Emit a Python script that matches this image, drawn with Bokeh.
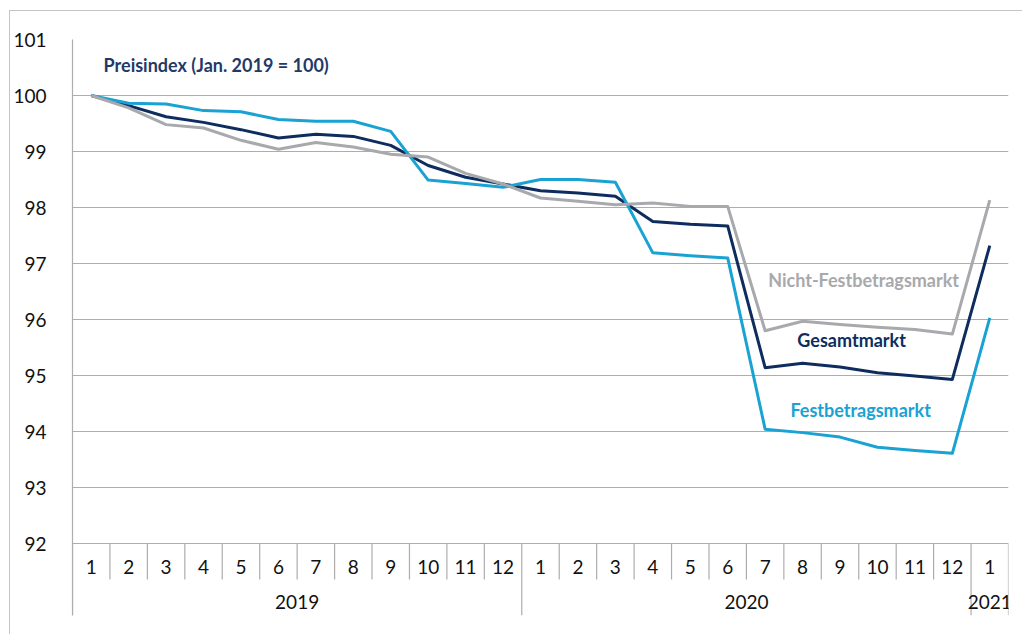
from bokeh.plotting import figure
from bokeh.models import FixedTicker, Range1d
from bokeh.core.properties import value
from bokeh.embed import file_html
from bokeh.resources import INLINE

# ---- data ----
months = ["1", "2", "3", "4", "5", "6", "7", "8", "9", "10", "11", "12",
          "1", "2", "3", "4", "5", "6", "7", "8", "9", "10", "11", "12",
          "1"]
years = ["2019", "2020", "2021"]
year_lengths = [12, 12, 1]
gesamt = [100.00, 99.82, 99.62, 99.52, 99.39, 99.24, 99.31, 99.27, 99.11, 98.75, 98.54, 98.42,
          98.30, 98.26, 98.20, 97.75, 97.70, 97.67, 95.14, 95.22, 95.15, 95.05, 94.99, 94.93,
          97.32]
festbetrag = [100.00, 99.86, 99.85, 99.73, 99.71, 99.57, 99.54, 99.54, 99.36, 98.49, 98.43, 98.36,
              98.50, 98.50, 98.45, 97.19, 97.14, 97.10, 94.04, 93.98, 93.90, 93.72, 93.66, 93.61,
              96.03]
nicht_fest = [100.00, 99.78, 99.48, 99.42, 99.20, 99.04, 99.16, 99.08, 98.95, 98.90, 98.61, 98.42,
              98.17, 98.11, 98.05, 98.08, 98.02, 98.02, 95.80, 95.97, 95.91, 95.86, 95.82, 95.74,
              98.13]
y_ticks = [92, 93, 94, 95, 96, 97, 98, 99, 100, 101]
title_text = "Preisindex (Jan. 2019 = 100)"
series_labels = ["Nicht-Festbetragsmarkt", "Gesamtmarkt", "Festbetragsmarkt"]

# ---- styling ----
C_LIGHT = "#1aa2d3"
C_NAVY = "#0e2d5e"
C_GRAY = "#a7a9ac"
C_GRID = "#adadad"
FONT = "Lato"

x = list(range(1, len(months) + 1))
n = len(months)

px_per_unit = 56.0
y_bottom = 92 - 72 / px_per_unit

p = figure(width=1013, height=624, output_backend="svg", toolbar_location=None,
           x_range=Range1d(0.5, n + 0.5), y_range=Range1d(y_bottom, 101),
           min_border_left=62, min_border_top=28, min_border_right=15, min_border_bottom=20,
           styles={"margin-left": "9px", "margin-top": "10px",
                   "border-top": "1px solid #c4c4c4", "border-left": "1px solid #c4c4c4"})
p.outline_line_color = None
p.background_fill_color = "white"
p.border_fill_color = "white"

p.xaxis.visible = False
p.xgrid.visible = False
p.ygrid.ticker = FixedTicker(ticks=y_ticks)
p.ygrid.grid_line_color = C_GRID
p.ygrid.grid_line_width = 1.2

p.yaxis.ticker = FixedTicker(ticks=y_ticks)
p.yaxis.axis_line_color = C_GRID
p.yaxis.axis_line_width = 1.2
p.yaxis.major_tick_line_color = None
p.yaxis.minor_tick_line_color = None
p.yaxis.major_label_text_font = FONT
p.yaxis.major_label_text_font_size = "19px"
p.yaxis.major_label_text_color = "#111111"
p.yaxis.major_label_standoff = 20

# category separators
bounds = [0.5]
for L in year_lengths:
    bounds.append(bounds[-1] + L)
year_bounds = bounds
month_bounds = [b + 0.5 for b in x[:-1] if (b + 0.5) not in year_bounds]
sep_month_bottom = 92 - 36 / px_per_unit
p.segment(x0=month_bounds, x1=month_bounds, y0=[92] * len(month_bounds),
          y1=[sep_month_bottom] * len(month_bounds), line_color=C_GRID, line_width=1.2)
p.segment(x0=year_bounds, x1=year_bounds, y0=[92] * len(year_bounds),
          y1=[y_bottom] * len(year_bounds), line_color=C_GRID, line_width=1.2)

# month and year labels
month_label_y = 92 - 23.5 / px_per_unit
p.text(x=x, y=[month_label_y] * n, text=months, text_font=value(FONT),
       text_font_size="19px", text_align="center", text_baseline="middle", text_color="#111111")
year_centers = [(year_bounds[i] + year_bounds[i + 1]) / 2 for i in range(len(years))]
year_label_y = 92 - 58.5 / px_per_unit
p.text(x=year_centers, y=[year_label_y] * len(years), text=years, text_font=value(FONT),
       text_font_size="19px", text_align="center", text_baseline="middle", text_color="#111111")

# lines
p.line(x, gesamt, line_color=C_NAVY, line_width=3, line_join="round")
p.line(x, festbetrag, line_color=C_LIGHT, line_width=3, line_join="round")
p.line(x, nicht_fest, line_color=C_GRAY, line_width=3, line_join="round")

# annotations
p.text(x=[1.33], y=[100.54], text=[title_text], text_font=value(FONT), text_font_style="bold",
       text_font_size="18px", text_align="left", text_baseline="middle", text_color="#1f3a68")
p.text(x=[21.63, 21.31, 21.55], y=[96.70, 95.64, 94.39], text=series_labels,
       text_font=value(FONT), text_font_style="bold", text_font_size="18px",
       text_align="center", text_baseline="middle",
       text_color=[C_GRAY, C_NAVY, C_LIGHT])

open("out.html", "w").write(file_html(p, INLINE))
